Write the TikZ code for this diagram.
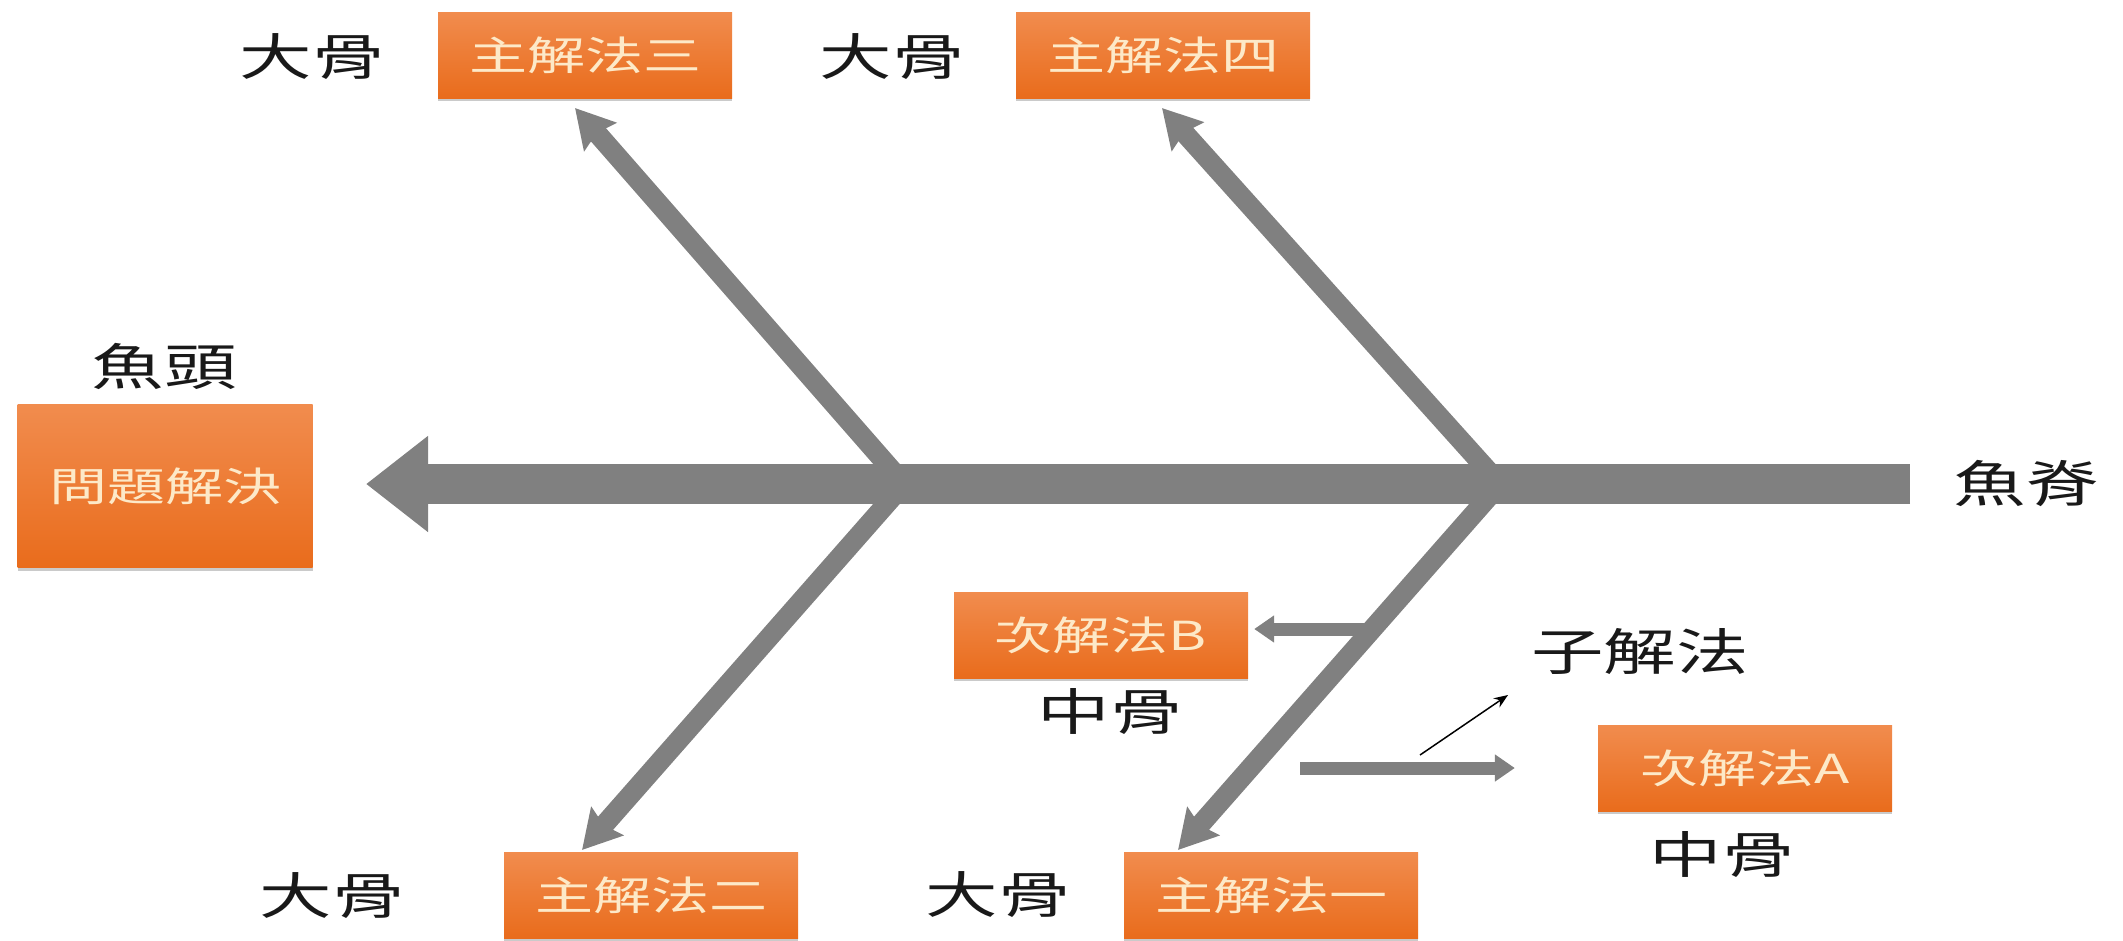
\documentclass[tikz,border=0pt]{standalone}
\usepackage{fontspec}
\newfontfamily\cjk[FakeStretch=1.45]{Noto Sans CJK TC}
\usetikzlibrary{arrows.meta,shadows}
\definecolor{bonegray}{RGB}{128,128,128}
\definecolor{boxtop}{RGB}{241,140,78}
\definecolor{boxbot}{RGB}{233,108,28}
\definecolor{boxtext}{RGB}{253,233,200}
\definecolor{labeltext}{RGB}{25,25,25}
\begin{document}
\begin{tikzpicture}[x=1pt,y=-1pt,
  solbox/.style={rectangle, minimum width=294pt, minimum height=86pt,
    top color=boxtop, bottom color=boxbot, draw=none,
    drop shadow={shadow xshift=0pt, shadow yshift=-3pt, opacity=0.35, fill=black!60},
    text=boxtext, font=\cjk\fontsize{40}{44}\selectfont, inner sep=0pt},
  lbl/.style={text=labeltext, font=\cjk\fontsize{50}{54}\selectfont, inner sep=0pt},
  spineline/.style={draw=bonegray, line width=40pt, -{Triangle[length=62pt,width=92pt]}},
  bigbone/.style={draw=bonegray, line width=20pt, -{Stealth[length=38pt,width=42pt,inset=5pt]}},
  midbone/.style={draw=bonegray, line width=13pt, -{Triangle[length=20pt,width=26pt]}},
  subbone/.style={draw=black, line width=1.5pt, -{Stealth[length=14pt,width=11pt]}}
]
\useasboundingbox (0,0) rectangle (2123,940);

% boxes
\node[solbox, minimum height=163pt, minimum width=295pt] (head) at (165,486) {問題解決};
\node[solbox] (s3) at (585,55) {主解法三};
\node[solbox] (s4) at (1163,55) {主解法四};
\node[solbox] (s2) at (651,895) {主解法二};
\node[solbox] (s1) at (1271,895) {主解法一};
\node[solbox] (sB) at (1101,635) {次解法B};
\node[solbox] (sA) at (1745,768) {次解法A};

% labels
\node[lbl] (l3) at (312,57) {大骨};
\node[lbl] (l4) at (892,57) {大骨};
\node[lbl] (l2) at (332,896) {大骨};
\node[lbl] (l1) at (998,895) {大骨};
\node[lbl] (lB) at (1110,712) {中骨};
\node[lbl] (lA) at (1722,855) {中骨};
\node[lbl] (lsub) at (1640,652) {子解法};
\node[lbl] (lhead) at (164,366) {魚頭};
\node[lbl] (lspine) at (2026,484) {魚脊};

% coordinates
\coordinate (J1) at (904,484);
\coordinate (J2) at (1500,484);
\coordinate (spR) at (1910,484);
\coordinate (spL) at (366,484);
\coordinate (t3) at (575,108);
\coordinate (t4) at (1162,108);
\coordinate (t2) at (582,850);
\coordinate (t1) at (1178,850);
\coordinate (Bstart) at (1372,629);
\coordinate (Astart) at (1300,768);
\coordinate (subS) at (1420,755);
\coordinate (subE) at (1508,695);

% bones
\draw[bigbone] (J1) -- (t3);
\draw[bigbone] (J2) -- (t4);
\draw[bigbone] (J1) -- (t2);
\draw[bigbone] (J2) -- (t1);
\draw[spineline] (spR) -- (spL);
\draw[midbone, shorten >=6pt] (Bstart) -- (Bstart -| sB.east);
\draw[midbone, shorten >=83pt] (Astart) -- (Astart -| sA.west);
\draw[subbone] (subS) -- (subE);
\end{tikzpicture}
\end{document}
